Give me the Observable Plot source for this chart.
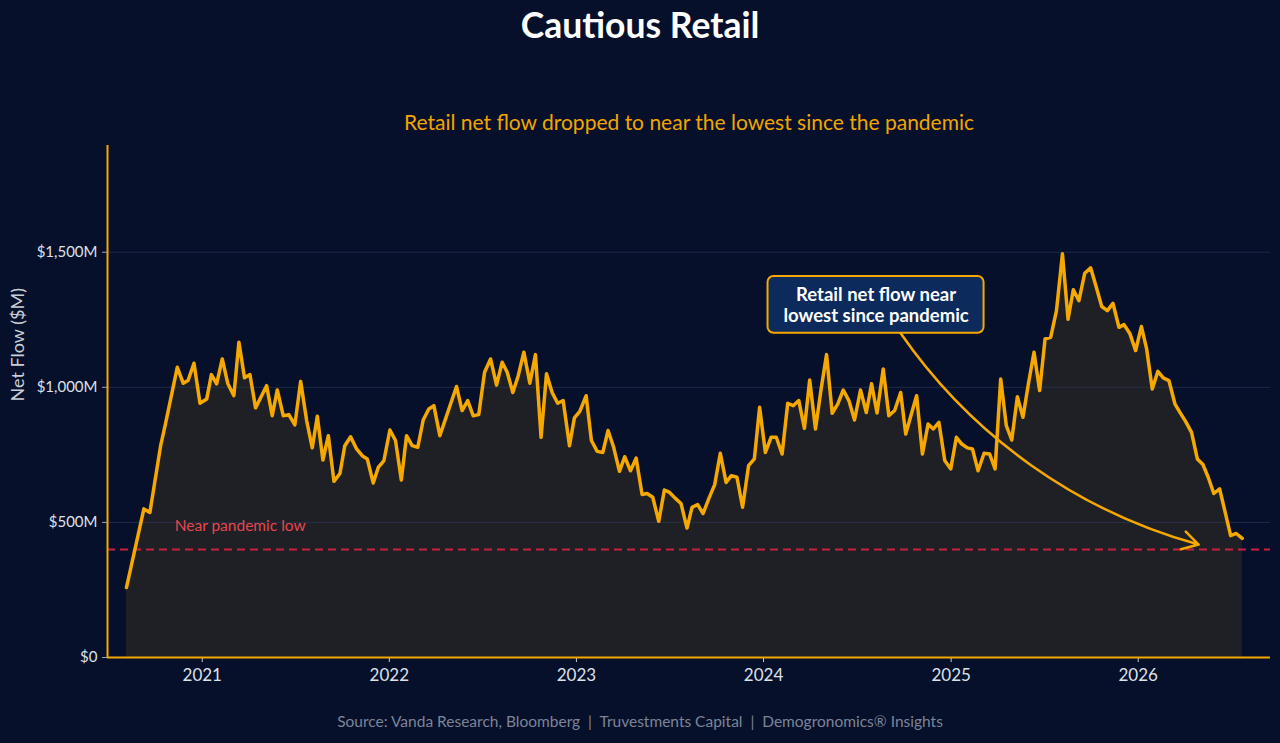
<!DOCTYPE html>
<html><head><meta charset="utf-8">
<script src="https://cdn.jsdelivr.net/npm/d3@7"></script>
<script src="https://cdn.jsdelivr.net/npm/@observablehq/plot@0.6"></script>
<style>
html,body{margin:0;padding:0;background:#06102b;}
body{width:1280px;height:743px;overflow:hidden;font-family:Lato,"Noto Sans",sans-serif;}
#title{height:50px;line-height:50px;text-align:center;color:#ffffff;font-weight:700;font-size:35.5px;}
#caption{height:43px;line-height:43px;text-align:center;color:#7d8498;font-size:15.5px;}
</style></head><body>
<div id="title">Cautious Retail</div>
<div id="chart"></div>
<div id="caption">Source: Vanda Research, Bloomberg &nbsp;|&nbsp; Truvestments Capital &nbsp;|&nbsp; Demogronomics® Insights</div>
<script>
const dates = [
2020.596,2020.689,2020.721,2020.778,2020.804,2020.867,2020.899,2020.924,2020.956,2020.988,
2021.024,2021.049,2021.077,2021.107,2021.137,2021.169,2021.196,2021.226,2021.255,2021.285,
2021.344,2021.374,2021.401,2021.433,2021.463,2021.495,2021.526,2021.558,2021.588,2021.615,
2021.645,2021.674,2021.704,2021.736,2021.762,2021.793,2021.825,2021.855,2021.882,2021.914,
2021.941,2021.971,2022.003,2022.033,2022.064,2022.092,2022.122,2022.152,2022.181,2022.211,
2022.238,2022.270,2022.359,2022.389,2022.419,2022.448,2022.478,2022.509,2022.541,2022.573,
2022.603,2022.630,2022.660,2022.689,2022.719,2022.751,2022.781,2022.811,2022.840,2022.870,
2022.900,2022.929,2022.963,2022.989,2023.018,2023.052,2023.080,2023.111,2023.141,2023.169,
2023.199,2023.230,2023.258,2023.289,2023.319,2023.351,2023.378,2023.408,2023.440,2023.470,
2023.498,2023.529,2023.559,2023.591,2023.618,2023.648,2023.677,2023.707,2023.739,2023.769,
2023.800,2023.828,2023.858,2023.888,2023.920,2023.951,2023.979,2024.010,2024.040,2024.068,
2024.099,2024.129,2024.158,2024.188,2024.218,2024.246,2024.277,2024.307,2024.336,2024.366,
2024.396,2024.425,2024.455,2024.485,2024.517,2024.548,2024.576,2024.605,2024.638,2024.668,
2024.699,2024.731,2024.758,2024.788,2024.816,2024.847,2024.877,2024.905,2024.935,2024.966,
2024.998,2025.028,2025.057,2025.087,2025.114,2025.144,2025.176,2025.206,2025.235,2025.265,
2025.295,2025.324,2025.354,2025.384,2025.413,2025.443,2025.473,2025.502,2025.532,2025.563,
2025.595,2025.625,2025.653,2025.683,2025.714,2025.746,2025.776,2025.805,2025.835,2025.865,
2025.897,2025.924,2025.956,2025.986,2026.017,2026.045,2026.075,2026.105,2026.134,2026.164,
2026.196,2026.223,2026.253,2026.285,2026.316,2026.346,2026.374,2026.404,2026.435,2026.463,
2026.494,2026.524,2026.556
];
// Retail net flow, $M
const flows = [
259,550,537,783,865,1074,1015,1025,1089,941,
957,1047,1013,1105,1013,969,1167,1035,1047,924,
1006,895,990,895,899,861,1022,877,776,893,
731,821,652,681,784,817,772,747,735,646,
704,729,842,803,657,821,784,778,879,920,
932,821,1003,914,951,895,899,1056,1105,1008,
1093,1056,981,1043,1130,1015,1121,815,1050,981,
941,951,784,887,911,969,803,763,759,840,
778,689,743,691,738,603,607,593,504,620,
611,589,570,479,556,566,533,587,640,756,
648,673,667,556,710,735,926,759,815,815,
753,941,932,951,848,1027,846,994,1121,904,
939,990,951,879,990,907,1013,905,1068,895,
914,981,827,901,969,753,864,846,870,729,
698,815,790,776,772,691,756,753,698,1031,
858,805,965,889,1013,1130,988,1179,1185,1284,
1494,1252,1361,1321,1422,1442,1370,1299,1284,1311,
1222,1232,1198,1136,1225,1142,994,1059,1035,1025,
939,907,874,833,735,714,667,607,624,543,
451,459,441
];
const yTicks = [0, 500, 1000, 1500];
const pandemicLow = 400;
const subtitle = "Retail net flow dropped to near the lowest since the pandemic";
const yLabel = "Net Flow ($M)";
const lowLabel = "Near pandemic low";
const calloutText = "Retail net flow near\nlowest since pandemic";

function toDate(t) {
  const y = Math.floor(t);
  const s = Date.UTC(y, 0, 1), e = Date.UTC(y + 1, 0, 1);
  return new Date(s + (t - y) * (e - s));
}
const data = dates.map((t, i) => ({date: toDate(t), flow: flows[i]}));

const orange = "#f5a800";
const xDomain = [toDate(2020.495), toDate(2026.707)];
const yFmt = d => d === 0 ? "$0" : "$" + d3.format(",")(d) + "M";

// annotation placement (data units)
const box = {x1: toDate(2024.024), x2: toDate(2025.176), y1: 1200, y2: 1410};
const boxText = {x: toDate(2024.600), y: 1306};
const arrow = {x1: toDate(2024.731), y1: 1200, x2: toDate(2026.323), y2: 418};
const lowPos = {x: toDate(2020.853), y: 488};

const chart = Plot.plot({
  width: 1280, height: 650,
  marginTop: 95, marginBottom: 43, marginLeft: 107, marginRight: 10,
  style: {background: "transparent", color: "#dde1e8", fontFamily: "Lato, 'Noto Sans', sans-serif", fontSize: "15px"},
  x: {type: "utc", domain: xDomain},
  y: {domain: [0, 1895]},
  marks: [
    Plot.areaY(data, {x: "date", y: "flow", fill: "#1f2025"}),
    Plot.gridY(yTicks.slice(1), {stroke: "#2b3656", strokeOpacity: 0.7, strokeWidth: 1}),
    Plot.ruleY([pandemicLow], {stroke: "#c8213f", strokeWidth: 2, strokeDasharray: "8,5"}),
    Plot.text([lowLabel], {x: () => lowPos.x, y: () => lowPos.y, text: d => d, textAnchor: "start", fill: "#e4474f", fontSize: 15.5}),
    Plot.lineY(data, {x: "date", y: "flow", stroke: orange, strokeWidth: 3.5, strokeLinejoin: "round"}),
    Plot.axisX({ticks: d3.utcYear.every(1), tickFormat: "%Y", tickSize: 5, tickPadding: 6, stroke: "#c9ccd3", fontSize: 17, label: null}),
    Plot.axisY({ticks: yTicks, tickFormat: yFmt, tickSize: 5, tickPadding: 5, stroke: "#9aa0ad", fontSize: 15, label: null}),
    Plot.ruleY([0], {stroke: orange, strokeWidth: 2}),
    Plot.ruleX([xDomain[0]], {stroke: orange, strokeWidth: 2}),
    Plot.arrow([arrow], {x1: "x1", y1: "y1", x2: "x2", y2: "y2", bend: -20, stroke: orange, strokeWidth: 2.5, headLength: 11}),
    Plot.rect([box], {x1: "x1", x2: "x2", y1: "y1", y2: "y2", fill: "#0c2a5c", stroke: orange, strokeWidth: 2, rx: 6}),
    Plot.text([calloutText], {x: () => boxText.x, y: () => boxText.y, text: d => d, fill: "#ffffff", fontWeight: "bold", fontSize: 18.5, lineHeight: 1.12}),
    Plot.text([subtitle], {frameAnchor: "top", lineAnchor: "middle", dy: -22, text: d => d, fill: "#f0a500", fontSize: 21}),
    Plot.text([yLabel], {frameAnchor: "left", lineAnchor: "middle", dx: -89, rotate: -90, text: d => d, fill: "#c9cdd6", fontSize: 18})
  ]
});
document.getElementById("chart").appendChild(chart);
</script>
</body></html>
